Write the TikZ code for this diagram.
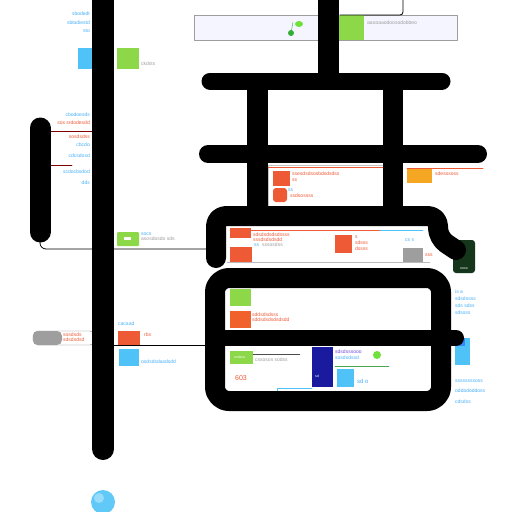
\documentclass[tikz,border=0pt]{standalone}
\usepackage{fontspec}
\setmainfont{Liberation Sans}
\definecolor{cgreen}{HTML}{8CD848}
\definecolor{cred}{HTML}{EE5A36}
\definecolor{camber}{HTML}{F5A623}
\definecolor{cblue}{HTML}{4FC3F7}
\definecolor{cnavy}{HTML}{1A1A9E}
\definecolor{cdark}{HTML}{16361C}
\definecolor{cgray}{HTML}{9E9E9E}
\tikzset{
  bar/.style={line width=#1, black, line cap=round, line join=round},
  stem/.style={line width=#1, black, line cap=butt},
  tb/.style={anchor=west, inner sep=0pt, text=cblue!90!blue, font=\fontsize{5}{6}\selectfont},
  to/.style={anchor=west, inner sep=0pt, text=cred, font=\fontsize{5}{6}\selectfont},
  tg/.style={anchor=west, inner sep=0pt, text=cgray, font=\fontsize{5}{6}\selectfont},
  tw/.style={anchor=west, inner sep=0pt, text=white, font=\fontsize{3.5}{4}\selectfont}
}
\begin{document}
\begin{tikzpicture}[x=1pt, y=-1pt, line join=round, line cap=round]
\useasboundingbox[fill=white] (0,0) rectangle (512,512);
% top right panel
\draw[cgray, fill=blue!4!white] (194,15) rectangle (457,40);
\fill[cgreen] (339,15) rectangle (364,40);
\node[tg] (pnlTxt) at (367,23) {aaooaaodoosodobbeo};
\fill[green!60!black!80] (291,33) circle (3);
\draw[green!60!black!80, thin] (291,33) -- (293,22);
\fill[cgreen!80!green] (299,24) ellipse (4 and 3);
\coordinate (wireTop) at (403,0);
\coordinate (wireEnd) at (340,15);
\draw[thick, rounded corners=3] (wireTop) |- (wireEnd);
% left column labels
\node[tb, anchor=east] (tl1) at (90,14) {sbodedt};
\node[tb, anchor=east] (tl2) at (90,23) {sbtodiestd};
\node[tb, anchor=east] (tl3) at (90,31) {sto};
\fill[cblue] (78,48) rectangle (92,69);
\fill[cgreen] (117,48) rectangle (139,69);
\node[tg] (gTxt) at (141,64) {ckdsts};
\node[tb, anchor=east] (ll1) at (90,115) {cbodoesds};
\node[to, anchor=east] (ll2) at (90,123) {sos srdodesdd};
\node[to, anchor=east] (ll3) at (90,137) {sosdsdss};
\node[tb, anchor=east] (ll4) at (90,145) {cbcdo};
\node[tb, anchor=east] (ll5) at (90,156) {cdcsdosd};
\node[tb, anchor=east] (ll6) at (90,172) {scdocbsdod};
\node[tb, anchor=east] (ll7) at (90,183) {dds};
\coordinate (rl1) at (51,131);
\coordinate (rl2) at (51,165);
\draw[red!50!black, thick] (rl1) -- (92,131);
\draw[red!50!black, thick] (rl2) -- (72,165);
\fill[cgreen, rounded corners=1] (117,232) rectangle (139,246);
\fill[white] (124,237) rectangle (131,240);
\node[tb] (gsTxt1) at (141,234) {socs};
\node[tg] (gsTxt2) at (141,239) {asosdosdo sds};
% wire from left bar
\coordinate (lbEnd) at (40,238);
\coordinate (frL) at (206,249);
\draw[thick, rounded corners=6] (lbEnd) |- (frL);
% lower left
\draw[cgray!80!black, fill=white, rounded corners=5] (33,331) rectangle (95,345);
\fill[cgray, rounded corners=5] (33,331) rectangle (62,345);
\node[to] (gb1) at (63,335) {sosdsds};
\node[to] (gb2) at (63,340) {sdsdsdsd};
\coordinate (gbR) at (95,345);
\coordinate (frL2) at (206,345);
\draw[thick] (gbR) -- (frL2);
\node[tb] (lb1) at (118,324) {cacaad};
\fill[cred] (118,331) rectangle (140,345);
\node[to] (lb2) at (144,335) {rbs};
\fill[cblue] (119,349) rectangle (139,366);
\node[tb] (lb3) at (141,362) {osdsdsdasdsdd};
\fill[cblue!90!white] (103,502) circle (12);
\fill[white, opacity=0.35] (99,498) circle (5);
% box between bars 2 and 3
\draw[cgray!60] (268,165) rectangle (383,206);
\draw[cred, thick] (268,167) -- (383,167);
\fill[cred] (273,171) rectangle (290,186);
\fill[cred, rounded corners=3] (273,188) rectangle (287,202);
\node[to] (m1) at (292,174) {ssesdsdsosbdsdsdss};
\node[to] (m2) at (292,180) {ss};
\node[tb] (m3) at (288,190) {ss};
\node[to] (m4) at (290,196) {ssdsossss};
\draw[cred, thick] (407,168) -- (483,168);
\fill[camber] (407,169) rectangle (432,183);
\node[to] (m5) at (435,174) {sdesssoss};
% frame 3 content
\draw[cgray!70] (227,262) -- (430,262);
\draw[cred, thick] (230,230) -- (380,230);
\draw[cblue, thick] (380,230) -- (423,230);
\fill[cred] (230,228) rectangle (251,238);
\node[to] (f1) at (253,235) {sdsdsdsdsdssss};
\node[to] (f2) at (253,240) {sssdsdsdsdd};
\node[tb] (f3) at (254,245) {ss};
\node[tg] (f4) at (262,245) {sssosdss};
\fill[cred] (230,247) rectangle (252,262);
\fill[cred] (335,235) rectangle (352,253);
\node[to] (f5) at (355,237) {s};
\node[to] (f6) at (355,243) {sdsss};
\node[to] (f7) at (355,249) {dssss};
\node[tb] (f8) at (405,240) {cs s};
\fill[cgray] (403,248) rectangle (423,262);
\node[to] (f9) at (425,255) {sss};
% bottom frame content
\fill[cgreen] (230,289) rectangle (251,306);
\fill[cred!80!orange] (230,311) rectangle (251,328);
\node[to] (b1) at (252,315) {sddsdsdsss};
\node[to] (b2) at (252,320) {sddsdsdsdsdsdd};
\fill[cgreen] (230,351) rectangle (253,364);
\node[tw] (b3) at (234,357) {osdsos};
\draw[black!70] (253,354) -- (300,354);
\node[tg] (b4) at (255,360) {cssosos sodss};
\node[to, font=\fontsize{7}{8}\selectfont] (b5) at (235,378) {603};
\fill[cnavy] (312,347) rectangle (333,387);
\node[tw] (b6) at (315,376) {sd};
\node[tb, text=blue!60!violet!70] (b7) at (335,352) {sdsdsssooo};
\node[tb] (b8) at (335,358) {sosdsdssd};
\fill[cgreen!80!green] (377,355) circle (4);
\draw[green!50!black!70] (335,366) -- (389,366);
\fill[cblue] (337,369) rectangle (354,387);
\node[tb, font=\fontsize{6}{7}\selectfont] (b9) at (357,381) {sd o};
\coordinate (blA) at (277,396);
\coordinate (blB) at (312,388);
\draw[cblue, thick] (blA) |- (blB);
% right side
\fill[cdark, rounded corners=3] (453,240) rectangle (475,273);
\node[tw, anchor=center] (dk) at (464,269) {ooso};
\node[tb] (r1) at (455,292) {is a};
\node[tb] (r2) at (455,299) {sdsdssss};
\node[tb] (r3) at (455,306) {sds sdss};
\node[tb] (r4) at (455,313) {sdssss};
\fill[cblue] (455,338) rectangle (470,365);
\fill[cblue!70!blue] (455,338) rectangle (465,346);
\node[tb] (r5) at (455,381) {ssssssssoss};
\node[tb] (r6) at (455,391) {oddododdoss};
\node[tb] (r7) at (455,402) {cdsdss};
% black bars
\draw[stem=22pt] (103,0) -- (103,449);
\draw[bar=22pt] (103,100) -- (103,449);
\draw[bar=21pt] (40,128) -- (40,232);
\draw[stem=21pt] (328,0) -- (328,81);
\draw[bar=17pt] (210,81) -- (442,81);
\draw[stem=21pt] (257,81) -- (257,216);
\draw[stem=20pt] (393,81) -- (393,216);
\draw[bar=18pt] (208,154) -- (478,154);
\draw[bar=20pt, rounded corners=10] (216,258) -- (216,216) -- (438,216) -- (438,238) -- (456,250);
\draw[bar=20pt, rounded corners=14] (215,278) rectangle (441,401);
\draw[bar=16pt] (215,338) -- (456,338);
\end{tikzpicture}
\end{document}
